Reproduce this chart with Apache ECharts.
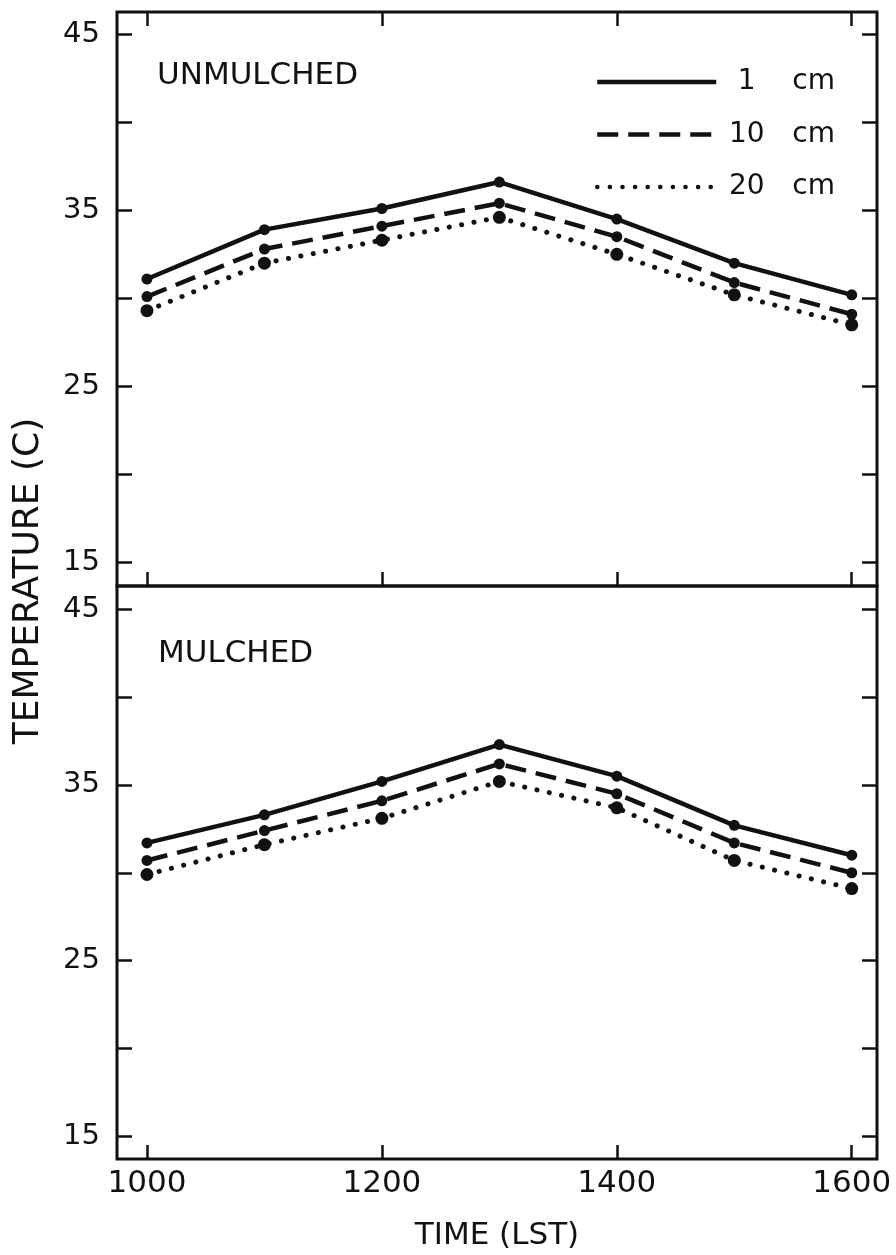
<!DOCTYPE html>
<html>
<head>
<meta charset="utf-8">
<script src="https://cdn.jsdelivr.net/npm/echarts@6/dist/echarts.min.js"></script>
<style>
  html, body { margin: 0; padding: 0; background: #fff; }
  #chart { width: 896px; height: 1255px; }
</style>
</head>
<body>
<div id="chart"></div>
<script>
// ---- data ----
const times = [1000, 1100, 1200, 1300, 1400, 1500, 1600];
const depthNames = ['1 cm', '10 cm', '20 cm'];
const unmulched1cm  = [31.1, 33.9, 35.1, 36.6, 34.5, 32.0, 30.2];
const unmulched10cm = [30.1, 32.8, 34.1, 35.4, 33.5, 30.9, 29.1];
const unmulched20cm = [29.3, 32.0, 33.3, 34.6, 32.5, 30.2, 28.5];
const mulched1cm  = [31.7, 33.3, 35.2, 37.3, 35.5, 32.7, 31.0];
const mulched10cm = [30.7, 32.4, 34.1, 36.2, 34.5, 31.7, 30.0];
const mulched20cm = [29.9, 31.6, 33.1, 35.2, 33.7, 30.7, 29.1];
const yTicks = [15, 20, 25, 30, 35, 40, 45];
const yTickLabels = [15, 25, 35, 45];
const xTicks = [1000, 1200, 1400, 1600];
const panelTitles = ['UNMULCHED', 'MULCHED'];
const yAxisTitle = 'TEMPERATURE (C)';
const xAxisTitle = 'TIME (LST)';

// ---- styling ----
const INK = '#111';
const FONT = '"DejaVu Sans", "Liberation Sans", sans-serif';
const pair = (vals) => times.map((t, i) => [t, vals[i]]);
const lineStyles = [
  { width: 4.5, type: 'solid', color: INK },
  { width: 4.5, type: [21, 10], color: INK },
  { width: 5, type: [0.1, 12.5], cap: 'round', color: INK }
];
const symbolSizes = [11, 11, 13];

function yAxes(gridIndex, min, max) {
  const base = {
    type: 'value', gridIndex, min, max,
    axisLine: { show: false },
    splitLine: { show: false },
    axisTick: { show: true, inside: true, length: 15, customValues: yTicks,
      lineStyle: { color: INK, width: 2.5 } }
  };
  return [
    Object.assign({}, base, { position: 'left',
      axisLabel: { show: true, customValues: yTickLabels, margin: 17,
        color: INK, fontFamily: FONT, fontSize: 29 } }),
    Object.assign({}, base, { position: 'right', axisLabel: { show: false } })
  ];
}
function xAxis(gridIndex, position, showTicks, showLabels, name) {
  return {
    type: 'value', gridIndex, position, min: 974.5, max: 1621.5,
    axisLine: { show: false },
    splitLine: { show: false },
    axisTick: { show: showTicks, inside: true, length: 14, customValues: xTicks,
      lineStyle: { color: INK, width: 2.5 } },
    axisLabel: { show: showLabels, customValues: xTicks, margin: 9,
      formatter: (v) => String(v), color: INK, fontFamily: FONT, fontSize: 31 },
    name: name || '',
    nameLocation: 'middle', nameGap: 61,
    nameTextStyle: { color: INK, fontFamily: FONT, fontSize: 31 }
  };
}

const panels = [
  [unmulched1cm, unmulched10cm, unmulched20cm],
  [mulched1cm, mulched10cm, mulched20cm]
];
const series = [];
panels.forEach((sets, p) => {
  sets.forEach((vals, k) => {
    series.push({
      type: 'line', name: depthNames[k],
      xAxisIndex: p === 0 ? 0 : 2, yAxisIndex: p === 0 ? 0 : 2,
      data: pair(vals),
      symbol: 'circle', symbolSize: symbolSizes[k],
      itemStyle: { color: INK },
      lineStyle: lineStyles[k],
      z: 10 - k,
      animation: false
    });
  });
});

const chart = echarts.init(document.getElementById('chart'), null, { renderer: 'canvas' });
chart.setOption({
  backgroundColor: '#fff',
  animation: false,
  grid: [
    { left: 117, right: 19, top: 12, height: 574, show: true, borderColor: INK, borderWidth: 3 },
    { left: 117, right: 19, top: 586, height: 573, show: true, borderColor: INK, borderWidth: 3 }
  ],
  xAxis: [
    xAxis(0, 'bottom', true, false),
    xAxis(0, 'top', true, false),
    xAxis(1, 'bottom', true, true, xAxisTitle)
  ],
  yAxis: [].concat(yAxes(0, 13.68, 46.25), yAxes(1, 13.7, 46.33)),
  legend: {
    show: true, orient: 'vertical', left: 590, top: 63,
    itemWidth: 119, itemHeight: 14, itemGap: 24.5,
    data: depthNames,
    selectedMode: false,
    itemStyle: { opacity: 0 },
    lineStyle: { width: 4.5 },
    formatter: (name) => {
      const parts = name.split(' ');
      return '{n|' + parts[0] + '}{u|' + parts[1] + '}';
    },
    textStyle: {
      color: INK, fontFamily: FONT, fontSize: 28,
      rich: {
        n: { width: 51, align: 'right', color: INK, fontFamily: FONT, fontSize: 28 },
        u: { padding: [0, 0, 0, 20], color: INK, fontFamily: FONT, fontSize: 28 }
      }
    }
  },
  graphic: [
    { type: 'text', x: 157, y: 76, style: { text: panelTitles[0], fill: INK,
      font: '31px ' + FONT, textAlign: 'left', textVerticalAlign: 'middle' } },
    { type: 'text', x: 158, y: 654, style: { text: panelTitles[1], fill: INK,
      font: '31px ' + FONT, textAlign: 'left', textVerticalAlign: 'middle' } },
    { type: 'text', x: 29, y: 581, rotation: Math.PI / 2, style: { text: yAxisTitle, fill: INK,
      font: '36px ' + FONT, textAlign: 'center', textVerticalAlign: 'middle' } }
  ],
  series
});
</script>
</body>
</html>
